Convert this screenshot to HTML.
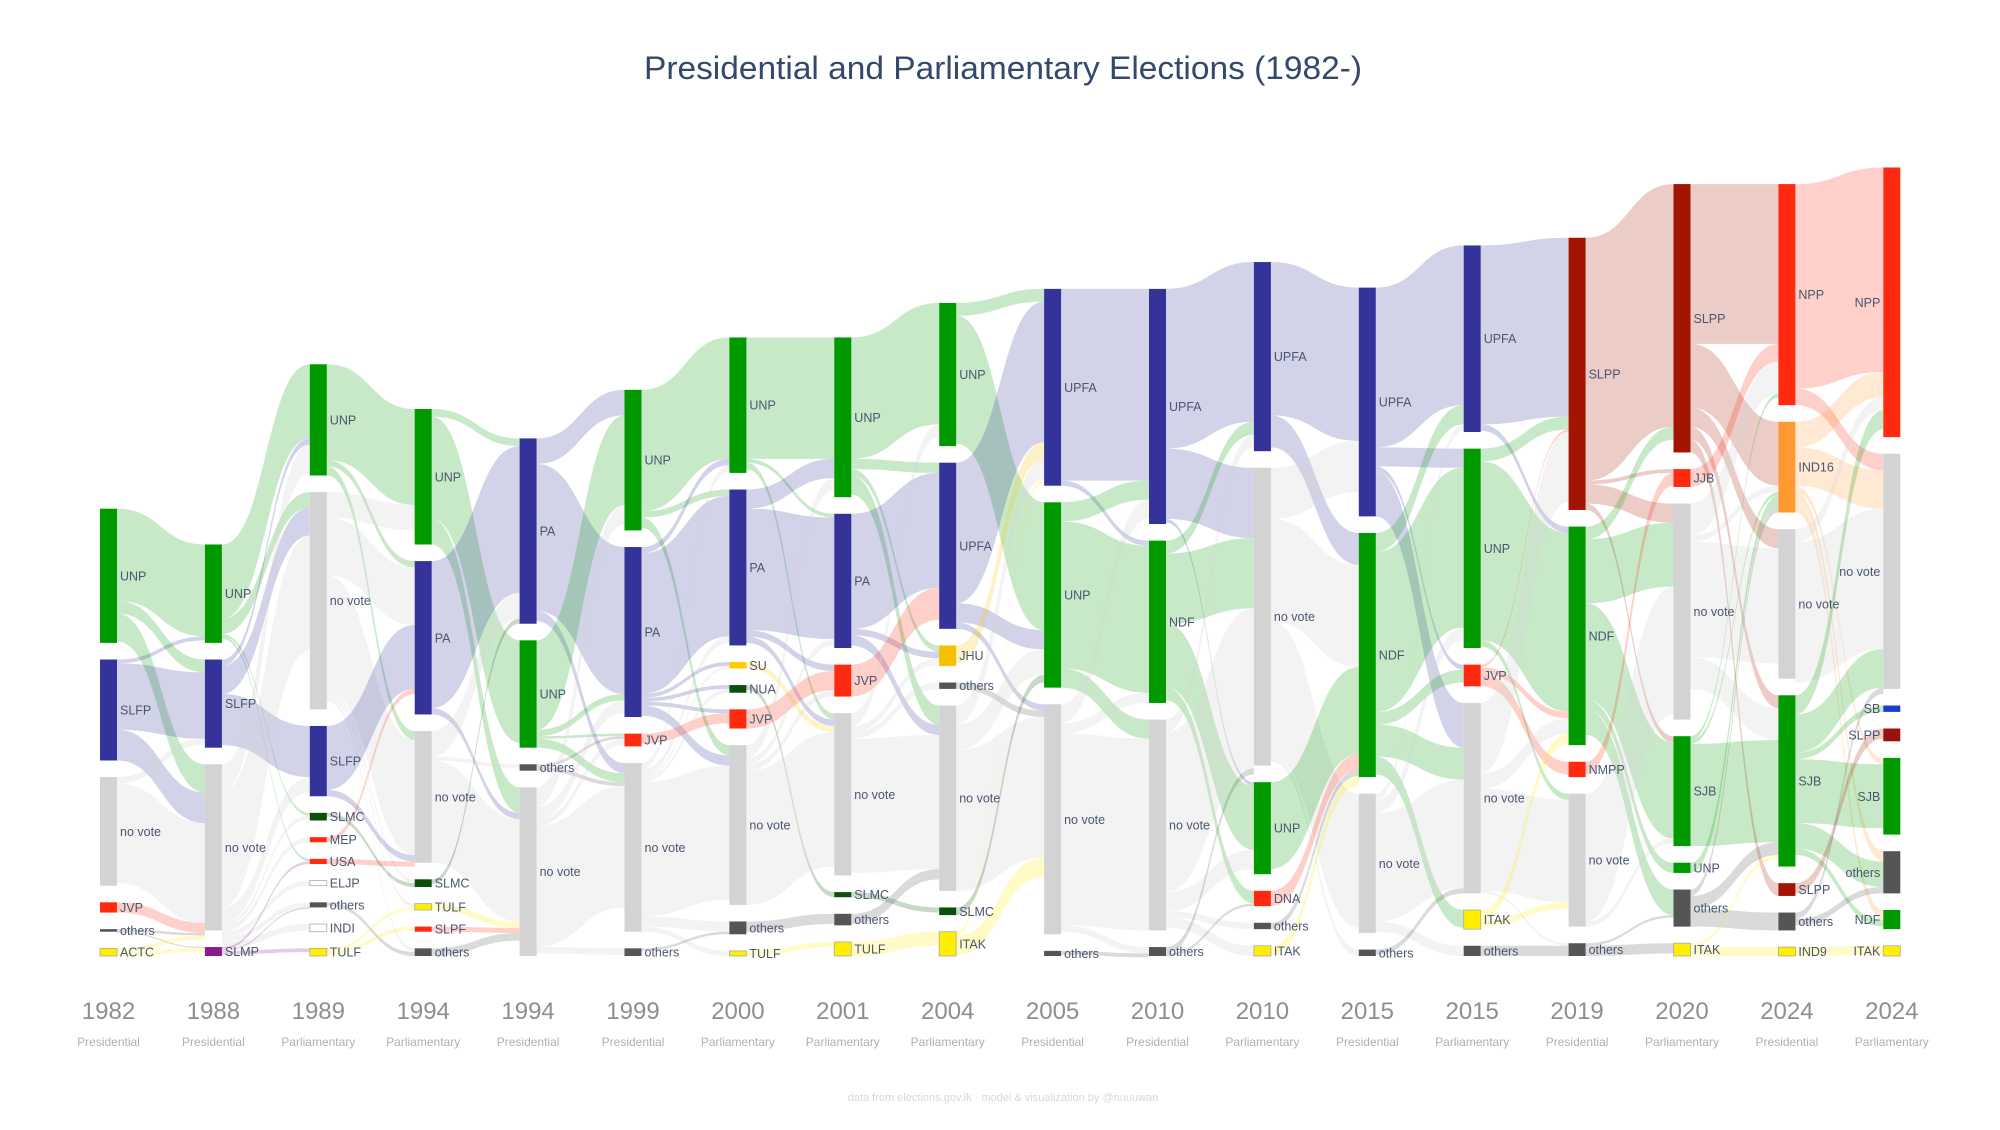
<!DOCTYPE html>
<html><head><meta charset="utf-8"><style>
body{margin:0;background:#fff;}
svg text{font-family:"Liberation Sans",sans-serif;}
</style></head><body>
<svg id="chart" width="2000" height="1125" viewBox="0 0 2000 1125" xmlns="http://www.w3.org/2000/svg">
<rect width="2000" height="1125" fill="#fff"/>
<text x="1003" y="79" text-anchor="middle" font-size="32" fill="#34486b" textLength="718" lengthAdjust="spacingAndGlyphs">Presidential and Parliamentary Elections (1982-)</text>
<g id="links"></g><g id="nodes"></g><g id="labels"></g><g id="axis"></g>
<text x="1003" y="1101" text-anchor="middle" font-size="11" fill="#d8d8d8">data from elections.gov.lk · model &amp; visualization by @nuuuwan</text>
</svg>
<script>
const years = ["1982","1988","1989","1994","1994","1999","2000","2001","2004","2005","2010","2010","2015","2015","2019","2020","2024","2024"];
const kinds = ["Presidential","Presidential","Parliamentary","Parliamentary","Presidential","Presidential","Parliamentary","Parliamentary","Parliamentary","Presidential","Presidential","Parliamentary","Presidential","Parliamentary","Presidential","Parliamentary","Presidential","Parliamentary"];
const nodeLabels = [
["UNP","SLFP","no vote","JVP","others","ACTC"],
["UNP","SLFP","no vote","SLMP"],
["UNP","no vote","SLFP","SLMC","MEP","USA","ELJP","others","INDI","TULF"],
["UNP","PA","no vote","SLMC","TULF","SLPF","others"],
["PA","UNP","others","no vote"],
["UNP","PA","JVP","no vote","others"],
["UNP","PA","SU","NUA","JVP","no vote","others","TULF"],
["UNP","PA","JVP","no vote","SLMC","others","TULF"],
["UNP","UPFA","JHU","others","no vote","SLMC","ITAK"],
["UPFA","UNP","no vote","others"],
["UPFA","NDF","no vote","others"],
["UPFA","no vote","UNP","DNA","others","ITAK"],
["UPFA","NDF","no vote","others"],
["UPFA","UNP","JVP","no vote","ITAK","others"],
["SLPP","NDF","NMPP","no vote","others"],
["SLPP","JJB","no vote","SJB","UNP","others","ITAK"],
["NPP","IND16","no vote","SJB","SLPP","others","IND9"],
["NPP","no vote","SB","SLPP","SJB","others","NDF","ITAK"]
];
const nodeValues = [
[105,79,85,8,2,6],
[77,69,130,7],
[87,170,55,6,4,4,4,4,6,6],
[106,120,103,6,5,4,6],
[145,84,5,132],
[110,133,10,132,6],
[106,122,5,6,15,125,10,4],
[125,105,25,127,4,9,11],
[112,130,16,5,145,6,19],
[154,145,180,4],
[184,127,165,7],
[148,233,72,12,5,8],
[179,191,109,5],
[146,156,17,149,15,8],
[213,171,12,104,10],
[210,14,169,86,8,29,10],
[173,71,117,134,10,14,7],
[211,184,5,10,60,33,15,8]
];
const linkData = [
"UNP>UNP:72,UNP>SLFP:10,UNP>no vote:22,SLFP>UNP:3,SLFP>SLFP:52,SLFP>no vote:24,no vote>SLFP:5,no vote>no vote:78,JVP>no vote:8,others>no vote:2,others>SLMP:1,ACTC>no vote:3,ACTC>SLMP:3",
"UNP>UNP:58,UNP>no vote:12,UNP>SLMC:2,UNP>USA:2,SLFP>UNP:5,SLFP>no vote:22,SLFP>SLFP:40,no vote>UNP:22,no vote>no vote:90,no vote>SLFP:12,no vote>SLMC:3,no vote>MEP:4,no vote>ELJP:4,no vote>others:4,no vote>INDI:5,SLMP>USA:2,SLMP>others:1,SLMP>TULF:3",
"UNP>UNP:75,UNP>PA:5,UNP>no vote:7,no vote>UNP:20,no vote>PA:45,no vote>no vote:90,no vote>SLMC:3,no vote>TULF:3,no vote>others:3,SLFP>PA:50,SLFP>no vote:5,SLMC>SLMC:3,MEP>PA:4,USA>no vote:4,ELJP>no vote:3,others>others:3,INDI>no vote:4,TULF>TULF:2,TULF>SLPF:3",
"UNP>PA:6,UNP>UNP:80,UNP>no vote:20,PA>PA:115,PA>no vote:5,no vote>PA:20,no vote>others:3,no vote>no vote:80,SLMC>PA:4,TULF>no vote:5,SLPF>no vote:4,others>no vote:6",
"PA>UNP:20,PA>PA:115,PA>no vote:8,UNP>UNP:70,UNP>PA:5,UNP>JVP:2,UNP>no vote:7,others>JVP:2,others>no vote:3,no vote>UNP:15,no vote>PA:10,no vote>JVP:5,no vote>no vote:95,no vote>others:5",
"UNP>UNP:95,UNP>PA:5,UNP>no vote:8,PA>UNP:5,PA>PA:110,PA>SU:3,PA>NUA:3,PA>JVP:3,PA>no vote:8,JVP>JVP:8,no vote>UNP:5,no vote>PA:5,no vote>SU:2,no vote>NUA:3,no vote>no vote:105,no vote>others:8,no vote>TULF:4,others>others:2",
"UNP>UNP:95,UNP>PA:3,UNP>no vote:5,PA>UNP:15,PA>PA:95,PA>JVP:5,PA>no vote:5,SU>no vote:5,NUA>SLMC:4,JVP>JVP:15,no vote>UNP:10,no vote>PA:5,no vote>JVP:5,no vote>no vote:105,others>others:8,TULF>TULF:4",
"UNP>UNP:95,UNP>UPFA:8,UNP>JHU:5,UNP>no vote:15,PA>UPFA:90,PA>JHU:5,PA>no vote:8,JVP>UPFA:25,no vote>UNP:10,no vote>JHU:5,no vote>others:5,no vote>no vote:105,SLMC>SLMC:4,others>no vote:8,TULF>ITAK:11",
"UNP>UPFA:10,UNP>UNP:100,UPFA>UPFA:110,UPFA>UNP:15,UPFA>no vote:5,JHU>UPFA:14,others>no vote:5,no vote>UPFA:15,no vote>UNP:20,no vote>no vote:110,SLMC>UNP:6,ITAK>UPFA:3,ITAK>no vote:15",
"UPFA>UPFA:150,UPFA>NDF:4,UNP>UPFA:15,UNP>NDF:115,UNP>no vote:15,no vote>UPFA:15,no vote>NDF:8,no vote>no vote:150,no vote>others:5,others>others:3",
"UPFA>UPFA:125,UPFA>no vote:55,UPFA>UNP:3,NDF>UPFA:10,NDF>no vote:55,NDF>UNP:50,NDF>DNA:10,no vote>UPFA:10,no vote>no vote:125,no vote>UNP:15,no vote>others:5,no vote>ITAK:8,others>DNA:2,others>no vote:5",
"UPFA>UPFA:120,UPFA>NDF:25,no vote>UPFA:40,no vote>NDF:80,no vote>no vote:105,no vote>others:5,UNP>NDF:68,DNA>NDF:12,others>NDF:5,ITAK>NDF:8",
"UPFA>UPFA:125,UPFA>UNP:15,UPFA>JVP:4,UPFA>no vote:35,NDF>UPFA:15,NDF>UNP:125,NDF>JVP:10,NDF>no vote:25,NDF>ITAK:14,no vote>UPFA:5,no vote>UNP:10,no vote>no vote:85,no vote>others:8,others>no vote:4",
"UPFA>SLPP:140,UPFA>NDF:5,UNP>SLPP:10,UNP>NDF:140,UNP>no vote:5,JVP>SLPP:2,JVP>NDF:5,JVP>NMPP:10,no vote>SLPP:55,no vote>NDF:12,no vote>no vote:80,no vote>others:2,ITAK>NDF:8,ITAK>no vote:5,others>others:8",
"SLPP>SLPP:190,SLPP>JJB:3,SLPP>no vote:15,SLPP>SJB:5,NDF>SLPP:10,NDF>no vote:50,NDF>SJB:75,NDF>UNP:8,NDF>others:20,NMPP>JJB:10,no vote>no vote:100,no vote>SJB:4,others>others:2,others>ITAK:8",
"SLPP>NPP:125,SLPP>IND16:50,SLPP>no vote:15,SLPP>SJB:10,SLPP>SLPP:10,JJB>NPP:14,no vote>NPP:25,no vote>IND16:5,no vote>no vote:90,no vote>SJB:25,SJB>NPP:3,SJB>IND16:3,SJB>SJB:80,UNP>IND16:8,others>IND16:5,others>SJB:10,others>others:14,ITAK>SJB:3,ITAK>IND9:7",
"NPP>NPP:160,NPP>no vote:13,IND16>NPP:20,IND16>no vote:30,IND16>SJB:5,IND16>others:8,IND16>NDF:8,no vote>NPP:10,no vote>no vote:110,SJB>NPP:15,SJB>no vote:30,SJB>SB:5,SJB>SJB:50,SJB>others:20,SJB>NDF:5,SLPP>SLPP:8,others>no vote:5,others>others:5,IND9>ITAK:7"
];
const colors = {"UNP":"#009900","SLFP":"#333399","PA":"#333399","UPFA":"#333399","no vote":"#d3d3d3","JVP":"#ff2a0f","NPP":"#ff2a0f","JJB":"#ff2a0f","NMPP":"#ff2a0f","DNA":"#ff2a0f","MEP":"#ff2a0f","USA":"#ff2a0f","SLPF":"#ff2a0f","others":"#555555","ACTC":"#ffee00","TULF":"#ffee00","ITAK":"#ffee00","IND9":"#ffee00","SLMP":"#8b1a8b","SLMC":"#0b4f0b","NUA":"#0b4f0b","ELJP":"#ffffff","INDI":"#ffffff","SU":"#ffcc00","JHU":"#f4c000","NDF":"#009900","SJB":"#009900","SLPP":"#a31500","IND16":"#ff9933","SB":"#1a3fcf"};

const S = 1.278;
const BOTTOM = 956, GAP = 13*S, BW = 17;
const colX = i => 108.5 + i*104.9;
const yScale = v => v*S;
const NS = "http://www.w3.org/2000/svg";
function mk(tag, attrs, parent){const e=document.createElementNS(NS,tag);for(const k in attrs)e.setAttribute(k,attrs[k]);parent.appendChild(e);return e;}
const gL=document.getElementById('links'),gN=document.getElementById('nodes'),gT=document.getElementById('labels'),gA=document.getElementById('axis');

const nodes = nodeLabels.map((labs,i)=>{
  const vals=nodeValues[i];
  let total=vals.reduce((a,b)=>a+yScale(b),0)+GAP*(vals.length-1);
  let y=BOTTOM-total;
  return labs.map((l,j)=>{const h=yScale(vals[j]);const n={label:l,col:i,idx:j,y:y,h:h,x:colX(i)-BW/2,outs:[],ins:[]};y+=h+GAP;return n;});
});
const links=[];
linkData.forEach((str,i)=>{
  str.split(',').forEach(p=>{
    const [pair,v]=p.split(':');const [a,b]=pair.split('>');
    const s=nodes[i].find(n=>n.label===a), t=nodes[i+1].find(n=>n.label===b);
    if(!s||!t) return;
    const L={s:s,t:t,w:yScale(+v)};links.push(L);s.outs.push(L);t.ins.push(L);
  });
});
nodes.flat().forEach(n=>{
  n.outs.sort((a,b)=>a.t.idx-b.t.idx);let o=n.y;n.outs.forEach(L=>{L.sy=o;o+=L.w;});
  n.ins.sort((a,b)=>a.s.idx-b.s.idx);let q=n.y;n.ins.forEach(L=>{L.ty=q;q+=L.w;});
});
links.forEach(L=>{
  const x0=L.s.x+BW,x1=L.t.x,xm=(x0+x1)/2;
  const d=`M${x0},${L.sy}C${xm},${L.sy} ${xm},${L.ty} ${x1},${L.ty}L${x1},${L.ty+L.w}C${xm},${L.ty+L.w} ${xm},${L.sy+L.w} ${x0},${L.sy+L.w}Z`;
  const c=colors[L.s.label]||'#999';
  const p=mk('path',{d:d,fill:c,'fill-opacity':L.s.label==='no vote'?0.28:0.22},gL);
  
  
});
nodes.flat().forEach(n=>{
  let c=colors[n.label]||'#999';
  if(n.label==='SLPP'&&n.col===17)c='#9b1010';
  const r=mk('rect',{x:n.x,y:n.y,width:BW,height:Math.max(n.h,2),fill:c,stroke:(c==='#ffffff'||c==='#ffee00')?'#aaa':'none','stroke-width':0.8},gN);
  
  
  const last = n.col===years.length-1;
  const t=mk('text',{x:last?n.x-3:n.x+BW+3,y:n.y+n.h/2+4.5,'font-size':12.5,fill:'#4a5670','text-anchor':last?'end':'start'},gT);
  t.textContent=n.label;
  
  
});
years.forEach((y,i)=>{
  const t=mk('text',{x:colX(i),y:1019,'text-anchor':'middle','font-size':24,fill:'#8e8e8e'},gA);
  t.textContent=y;
  
  
  const k=mk('text',{x:colX(i),y:1046,'text-anchor':'middle','font-size':12,fill:'#b0b0b0'},gA);
  k.textContent=kinds[i];
  
  
});
</script>
</body></html>
